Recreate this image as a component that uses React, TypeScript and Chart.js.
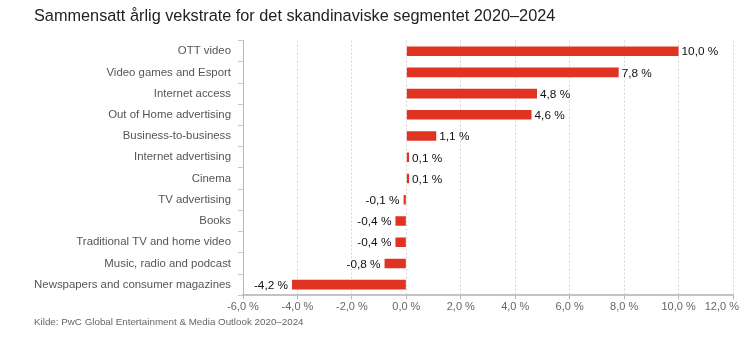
import React, { useEffect, useRef } from "react";
import { Chart, registerables } from "chart.js";

Chart.register(...registerables);

const categories = [
  "OTT video",
  "Video games and Esport",
  "Internet access",
  "Out of Home advertising",
  "Business-to-business",
  "Internet advertising",
  "Cinema",
  "TV advertising",
  "Books",
  "Traditional TV and home video",
  "Music, radio and podcast",
  "Newspapers and consumer magazines",
];
const growthValues = [10.0, 7.8, 4.8, 4.6, 1.1, 0.1, 0.1, -0.1, -0.4, -0.4, -0.8, -4.2];
const titleText = "Sammensatt årlig vekstrate for det skandinaviske segmentet 2020–2024";
const sourceText = "Kilde: PwC Global Entertainment & Media Outlook 2020–2024";
const xMin = -6;
const xMax = 12;
const xStep = 2;

const FONT = "'Liberation Sans', Arial, Helvetica, sans-serif";
const fmt = (v: number) => v.toFixed(1).replace(".", ",") + " %";
const TICK_FONT = `11px ${FONT}`;

const valueLabels = {
  id: "valueLabels",
  afterDatasetsDraw(chart: any) {
    const ctx = chart.ctx;
    const meta = chart.getDatasetMeta(0);
    ctx.save();
    ctx.font = `11.8px ${FONT}`;
    ctx.fillStyle = "#111";
    ctx.textBaseline = "middle";
    meta.data.forEach((el: any, i: number) => {
      const v = growthValues[i];
      if (v >= 0) {
        ctx.textAlign = "left";
        ctx.fillText(fmt(v), el.x + 3, el.y + 1);
      } else {
        ctx.textAlign = "right";
        ctx.fillText(fmt(v), el.x - 4, el.y + 1);
      }
    });
    ctx.restore();
  },
  afterDraw(chart: any) {
    // last x tick label, kept inside the canvas
    const s = chart.scales.x;
    const ctx = chart.ctx;
    const txt = fmt(xMax);
    ctx.save();
    ctx.font = TICK_FONT;
    ctx.fillStyle = "#666";
    ctx.textBaseline = "middle";
    const w = ctx.measureText(txt).width;
    const px = s.getPixelForValue(xMax);
    const right = Math.min(px + w / 2, chart.width - 7);
    ctx.textAlign = "right";
    ctx.fillText(txt, right, s.top + 11.6);
    ctx.restore();
  },
};

export default function App() {
  const ref = useRef<HTMLCanvasElement | null>(null);
  useEffect(() => {
    if (!ref.current) return;
    const chart = new Chart(ref.current, {
      type: "bar",
      data: {
        labels: categories,
        datasets: [
          {
            data: growthValues,
            backgroundColor: "#e03322",
            borderWidth: 0,
            categoryPercentage: 1,
            barPercentage: 0.45,
          },
        ],
      },
      plugins: [valueLabels],
      options: {
        indexAxis: "y",
        animation: false,
        responsive: false,
        maintainAspectRatio: false,
        layout: { padding: { left: 34, right: 13, top: 0, bottom: 0 } },
        plugins: {
          legend: { display: false },
          tooltip: { enabled: false },
          title: {
            display: true,
            text: titleText,
            align: "start",
            color: "#222",
            font: { family: FONT, size: 16.3, weight: "normal" },
            padding: { top: 7, bottom: 14 },
          },
          subtitle: {
            display: true,
            text: sourceText,
            position: "bottom",
            align: "start",
            color: "#666",
            font: { family: FONT, size: 9.8, weight: "normal" },
            padding: { top: 0, bottom: 12 },
          },
        },
        scales: {
          x: {
            type: "linear",
            min: xMin,
            max: xMax,
            ticks: {
              stepSize: xStep,
              color: "#666",
              font: { family: FONT, size: 11 },
              padding: 1,
              maxRotation: 0,
              callback: (v: any) => (Number(v) === xMax ? "" : fmt(Number(v))),
            },
            grid: {
              color: "#d6d6d6",
              tickColor: "#b8b8b8",
              tickLength: 4,
              lineWidth: 1,
            },
            border: { color: "#c4c4c4", width: 2, dash: [2, 2] },
            afterFit: (s: any) => {
              s.height = 21;
              s.paddingLeft = 0;
              s.paddingRight = 0;
            },
          },
          y: {
            offset: true,
            ticks: {
              color: "#555",
              font: { family: FONT, size: 11.4 },
              padding: 7,
            },
            grid: {
              offset: true,
              drawOnChartArea: false,
              tickLength: 5,
              tickColor: "#c8c8c8",
            },
            border: { color: "#b8b8b8", width: 1 },
            afterFit: (s: any) => {
              s.width = 209;
            },
          },
        },
      },
    } as any);
    return () => chart.destroy();
  }, []);
  return (
    <div style={{ position: "absolute", left: 0, top: 0, width: 746, height: 340, background: "#fff" }}>
      <canvas ref={ref} width={746} height={340} style={{ width: 746, height: 340 }} />
    </div>
  );
}
